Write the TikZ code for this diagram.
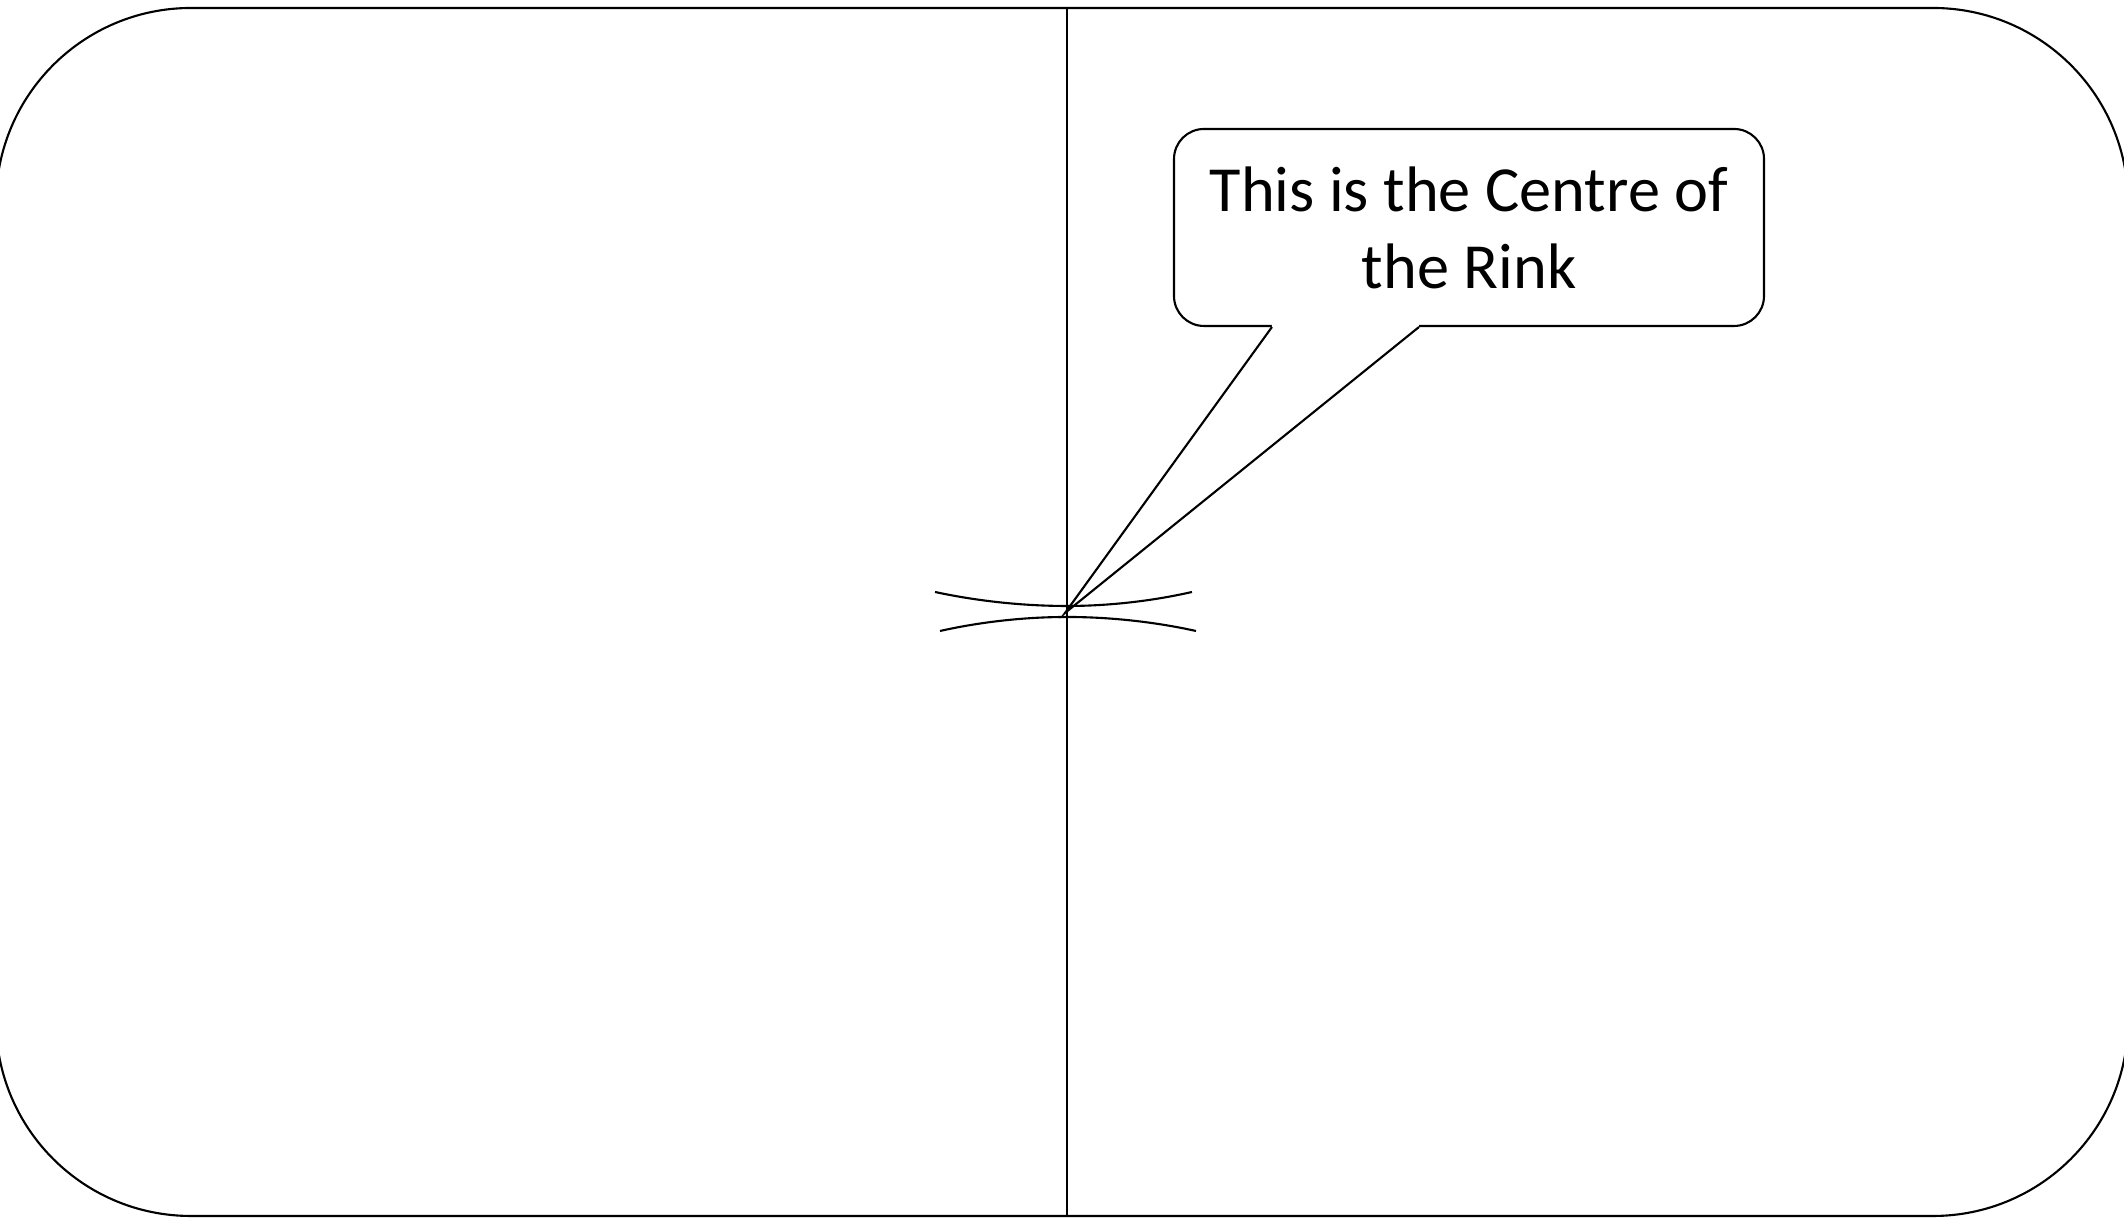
\documentclass[tikz,border=0pt]{standalone}
\usepackage{fontspec}
\setmainfont{Carlito}
\usetikzlibrary{calc}

\begin{document}
\begin{tikzpicture}[
    line width=0.6pt,
    rink/.style={rounded corners=1.95cm},
    callout box/.style={rectangle, draw, rounded corners=0.3cm, minimum width=5.9cm, minimum height=1.97cm, align=center, inner sep=0pt, font=\fontsize{18.3}{21.9}\selectfont},
]

% Page size of the picture
\useasboundingbox (0,0) rectangle (21.24,12.25);

% Callout pointing at the centre
\node[callout box] (note) at (14.69,9.975) {This is the Centre of\\the Rink};
\coordinate (centre) at (10.65,6.12);
\fill[white] ($(note.south west)+(0.99,0.03)$) -- ($(note.south west)+(0.99,0)$) -- (centre) -- ($(note.south west)+(2.46,0)$) -- ($(note.south west)+(2.46,0.03)$) -- cycle;
\draw ($(note.south west)+(0.99,0)$) -- (centre) -- ($(note.south west)+(2.46,0)$);

% Rink outline and centre line
\draw[rink] (-0.04,0.09) rectangle (21.28,12.17);
\coordinate (top) at (10.67,12.17);
\coordinate (bottom) at (10.67,0.09);
\draw (top) -- (bottom);

% Centre mark
\draw (9.35,6.33) parabola bend (10.67,6.19) (11.92,6.33);
\draw (9.40,5.94) parabola bend (10.67,6.08) (11.96,5.94);

\end{tikzpicture}
\end{document}
